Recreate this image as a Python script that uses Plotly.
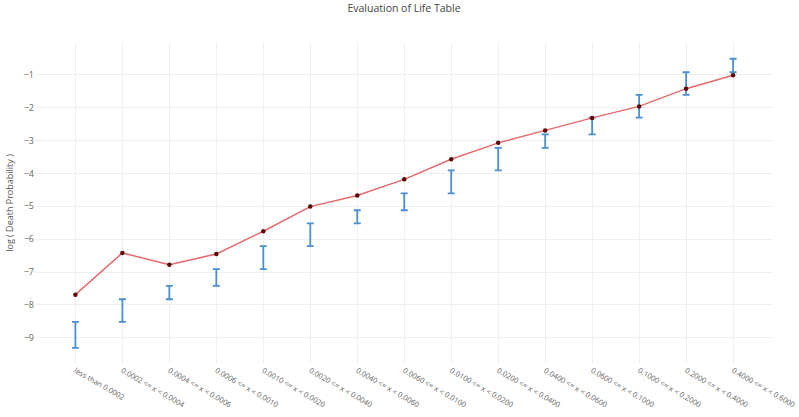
import plotly.graph_objects as go

categories = [
    "less than 0.0002", "0.0002 <= x < 0.0004", "0.0004 <= x < 0.0006",
    "0.0006 <= x < 0.0010", "0.0010 <= x < 0.0020", "0.0020 <= x < 0.0040",
    "0.0040 <= x < 0.0060", "0.0060 <= x < 0.0100", "0.0100 <= x < 0.0200",
    "0.0200 <= x < 0.0400", "0.0400 <= x < 0.0600", "0.0600 <= x < 0.1000",
    "0.1000 <= x < 0.2000", "0.2000 <= x < 0.4000", "0.4000 <= x < 0.6000",
]

# observed log death probability per class
observed = [-7.69, -6.42, -6.78, -6.45, -5.76, -5.01, -4.67, -4.18,
            -3.57, -3.07, -2.69, -2.31, -1.96, -1.42, -1.01]

# log bounds of each probability class
lower = [-9.31, -8.52, -7.83, -7.42, -6.91, -6.21, -5.52, -5.12,
         -4.61, -3.91, -3.22, -2.81, -2.30, -1.61, -0.92]
upper = [-8.52, -7.83, -7.42, -6.91, -6.21, -5.52, -5.12, -4.61,
         -3.91, -3.22, -2.81, -2.30, -1.61, -0.92, -0.51]

mid = [(lo + hi) / 2 for lo, hi in zip(lower, upper)]
plus = [hi - m for hi, m in zip(upper, mid)]
minus = [m - lo for lo, m in zip(lower, mid)]

fig = go.Figure()

fig.add_trace(go.Scatter(
    x=categories, y=mid, mode="markers",
    marker=dict(size=1, opacity=0),
    error_y=dict(type="data", symmetric=False, array=plus, arrayminus=minus,
                 color="#4a8fd4", thickness=1.8, width=3.5),
    hoverinfo="skip", showlegend=False,
))

fig.add_trace(go.Scatter(
    x=categories, y=observed, mode="lines+markers",
    line=dict(color="#e8696b", width=1.5),
    marker=dict(color="#5c0a0a", size=4.5),
    showlegend=False,
))

fig.update_layout(
    width=799, height=417,
    paper_bgcolor="white", plot_bgcolor="white",
    font=dict(family="Open Sans", color="#444"),
    title=dict(text="Evaluation of Life Table", x=0.5, xref="paper",
               xanchor="center", y=0.99, yanchor="top",
               font=dict(size=10.5, color="#444")),
    margin=dict(l=35, r=26, t=42, b=53),
    xaxis=dict(range=[-0.86, 14.85], tickangle=30, showgrid=True,
               gridcolor="#efefef", zeroline=False, showline=False,
               automargin=False,
               tickfont=dict(size=7.5, color="#666"), ticks=""),
    yaxis=dict(range=[-9.8, 0], tickvals=[-1, -2, -3, -4, -5, -6, -7, -8, -9],
               ticktext=["\u22121", "\u22122", "\u22123", "\u22124", "\u22125",
                         "\u22126", "\u22127", "\u22128", "\u22129"],
               showgrid=True, gridcolor="#efefef", zeroline=False,
               automargin=False,
               tickfont=dict(size=9, color="#666"), ticks="",
               title=dict(text="log ( Death Probability )", standoff=8,
                          font=dict(size=9, color="#555"))),
)

fig.write_html("out.html")
